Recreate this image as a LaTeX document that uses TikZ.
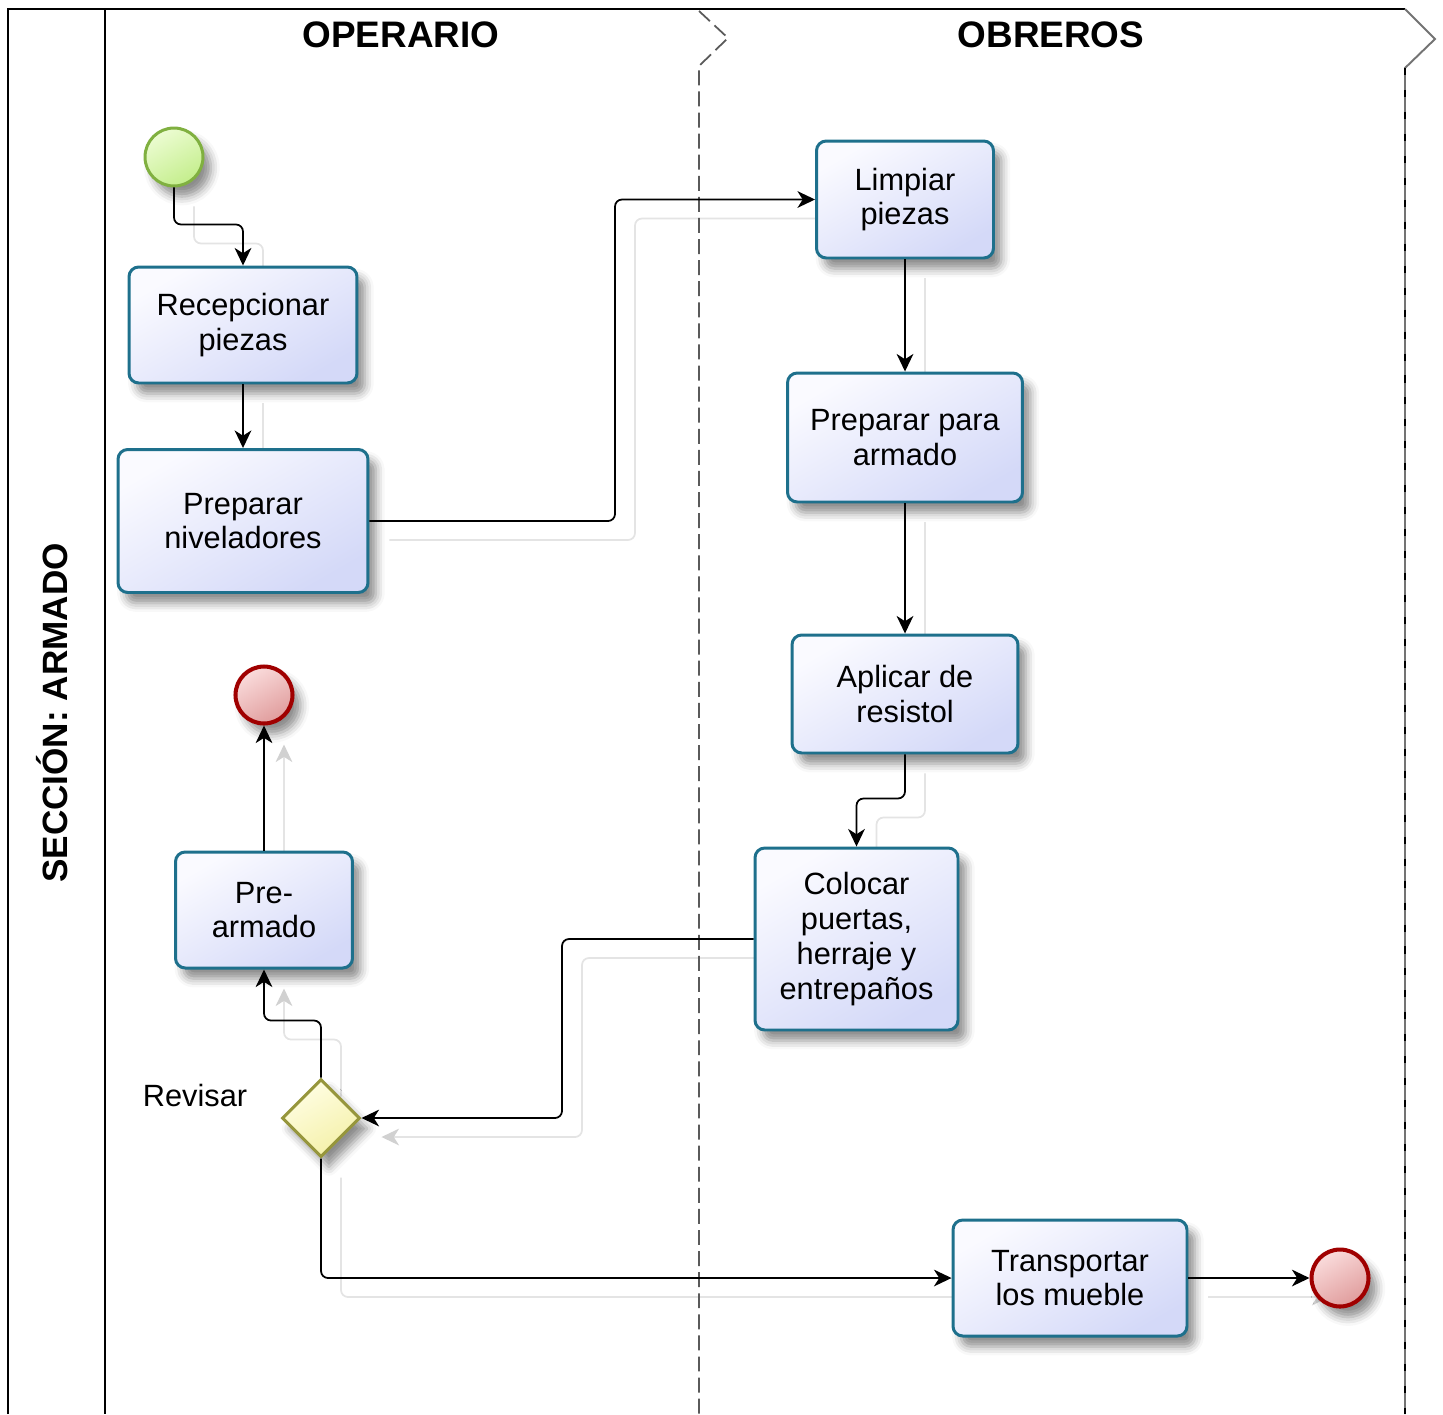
\documentclass[tikz,border=0pt]{standalone}
\usepackage{fontspec}
\setmainfont{Liberation Sans}
\usetikzlibrary{shapes.geometric,arrows.meta,shadows.blur}

\definecolor{taskline}{RGB}{30,112,140}
\definecolor{tasktop}{RGB}{250,250,255}
\definecolor{taskbot}{RGB}{212,217,248}
\definecolor{startline}{RGB}{128,176,64}
\definecolor{starttop}{RGB}{236,252,210}
\definecolor{startbot}{RGB}{196,238,140}
\definecolor{endline}{RGB}{160,0,0}
\definecolor{endtop}{RGB}{250,220,220}
\definecolor{endbot}{RGB}{224,156,156}
\definecolor{gwline}{RGB}{150,150,60}
\definecolor{gwtop}{RGB}{255,254,228}
\definecolor{gwbot}{RGB}{244,240,168}
\definecolor{ghostline}{RGB}{228,228,228}
\definecolor{lanedash}{RGB}{90,90,90}

\pgfdeclarelayer{echo}
\pgfsetlayers{echo,main}

\begin{document}
\begin{tikzpicture}[x=0.02cm,y=-0.02cm,
  softshadow/.style={blur shadow={shadow xshift=4.5pt,shadow yshift=-6pt,
      shadow opacity=45,shadow blur radius=5pt}},
  task/.style={rectangle,draw=taskline,line width=1.7pt,rounded corners=5.5pt,
      top color=tasktop,bottom color=taskbot,shading angle=30,
      align=center,inner sep=0pt,softshadow,
      font=\fontsize{17.5}{19.8}\selectfont},
  startev/.style={circle,draw=startline,line width=1.7pt,minimum size=1.16cm,
      inner sep=0pt,top color=starttop,bottom color=startbot,shading angle=30,softshadow},
  endev/.style={circle,draw=endline,line width=2.3pt,minimum size=1.14cm,
      inner sep=0pt,top color=endtop,bottom color=endbot,shading angle=30,softshadow},
  gateway/.style={diamond,draw=gwline,line width=1.7pt,minimum width=1.56cm,
      minimum height=1.56cm,inner sep=0pt,aspect=1,
      top color=gwtop,bottom color=gwbot,shading angle=30,softshadow},
  flow/.style={draw=black,line width=1pt,rounded corners=4pt,
      -{Stealth[length=10pt,width=9.5pt,inset=3pt]}},
  ghost/.style={draw=ghostline,line width=1pt,rounded corners=4pt,
      -{Stealth[length=10pt,width=9.5pt,inset=3pt,color=black!18]}},
  lanetitle/.style={font=\fontsize{21}{25}\selectfont\bfseries},
  frame/.style={draw=black,line width=1.1pt},
  divider/.style={draw=lanedash,line width=1pt,dash pattern=on 8.5pt off 3.5pt}
]
\useasboundingbox (0,0) rectangle (1443,1414);

% pool frame and lanes
\draw[frame] (8,1414) -- (8,9) -- (1405,9);
\draw[frame] (105,9) -- (105,1414);
\draw[divider] (699,11) -- (728,38) -- (699,66) -- (699,1414);
\draw[draw=black!55,line width=1.1pt] (1405,9) -- (1435,39) -- (1405,68) -- (1405,1414);
\draw[draw=black,line width=1.1pt,dash pattern=on 4pt off 8.5pt] (1405,68) -- (1405,1414);

\node[lanetitle,font=\fontsize{20}{24}\selectfont\bfseries,rotate=90] (pool) at (52,713) {SECCIÓN: ARMADO};
\node[lanetitle] (lane1) at (401,35) {OPERARIO};
\node[lanetitle] (lane2) at (1051,35) {OBREROS};

% flow elements
\coordinate (cstart) at (174,157);
\coordinate (cend1) at (264,695);
\coordinate (cend2) at (1340,1278);

\node[startev] (start) at (cstart) {};
\node[task,minimum width=4.56cm,minimum height=2.32cm] (rec) at (243,325) {Recepcionar\\piezas};
\node[task,minimum width=5.0cm,minimum height=2.86cm] (niv) at (243,521) {Preparar\\niveladores};
\node[task,minimum width=3.54cm,minimum height=2.32cm] (pre) at (264,910) {Pre-\\armado};
\node[endev] (end1) at (cend1) {};
\node[gateway] (gw) at (321,1118) {};
\node[font=\fontsize{17.5}{19.8}\selectfont] (gwlabel) at (195,1095) {Revisar};
\node[task,minimum width=3.54cm,minimum height=2.34cm] (limp) at (905,199.5) {Limpiar\\piezas};
\node[task,minimum width=4.7cm,minimum height=2.58cm] (arm) at (905,437.5) {Preparar para\\armado};
\node[task,minimum width=4.52cm,minimum height=2.36cm] (apl) at (905,694) {Aplicar de\\resistol};
\node[task,minimum width=4.06cm,minimum height=3.64cm] (col) at (856.5,939) {Colocar\\puertas,\\herraje y\\entrepaños};
\node[task,minimum width=4.68cm,minimum height=2.32cm] (tra) at (1070,1278) {Transportar\\los mueble};
\node[endev] (end2) at (cend2) {};

% faint offset echoes of the sequence flows, behind everything
\begin{pgfonlayer}{echo}
\begin{scope}[transform canvas={shift={(0.4cm,-0.38cm)}}]
  \draw[ghost] (start.south) -- ++(0,37) -| (rec.north);
  \draw[ghost] (rec.south) -- (niv.north);
  \draw[ghost] (niv.east) -| (615,360) |- (limp.west);
  \draw[ghost] (limp.south) -- (arm.north);
  \draw[ghost] (arm.south) -- (apl.north);
  \draw[ghost] (apl.south) -- ++(0,44) -| (col.north);
  \draw[ghost] (col.west) -| (562,1030) |- (gw.east);
  \draw[ghost] (gw.north) -- ++(0,-57) -| (pre.south);
  \draw[ghost] (pre.north) -- (end1.south);
  \draw[ghost] (gw.south) |- (tra.west);
  \draw[ghost] (tra.east) -- (end2.west);
\end{scope}
\end{pgfonlayer}

% sequence flows
\draw[flow] (start.south) -- ++(0,37) -| (rec.north);
\draw[flow] (rec.south) -- (niv.north);
\draw[flow] (niv.east) -| (615,360) |- (limp.west);
\draw[flow] (limp.south) -- (arm.north);
\draw[flow] (arm.south) -- (apl.north);
\draw[flow] (apl.south) -- ++(0,44) -| (col.north);
\draw[flow] (col.west) -| (562,1030) |- (gw.east);
\draw[flow] (gw.north) -- ++(0,-57) -| (pre.south);
\draw[flow] (pre.north) -- (end1.south);
\draw[flow] (gw.south) |- (tra.west);
\draw[flow] (tra.east) -- (end2.west);
\end{tikzpicture}
\end{document}
